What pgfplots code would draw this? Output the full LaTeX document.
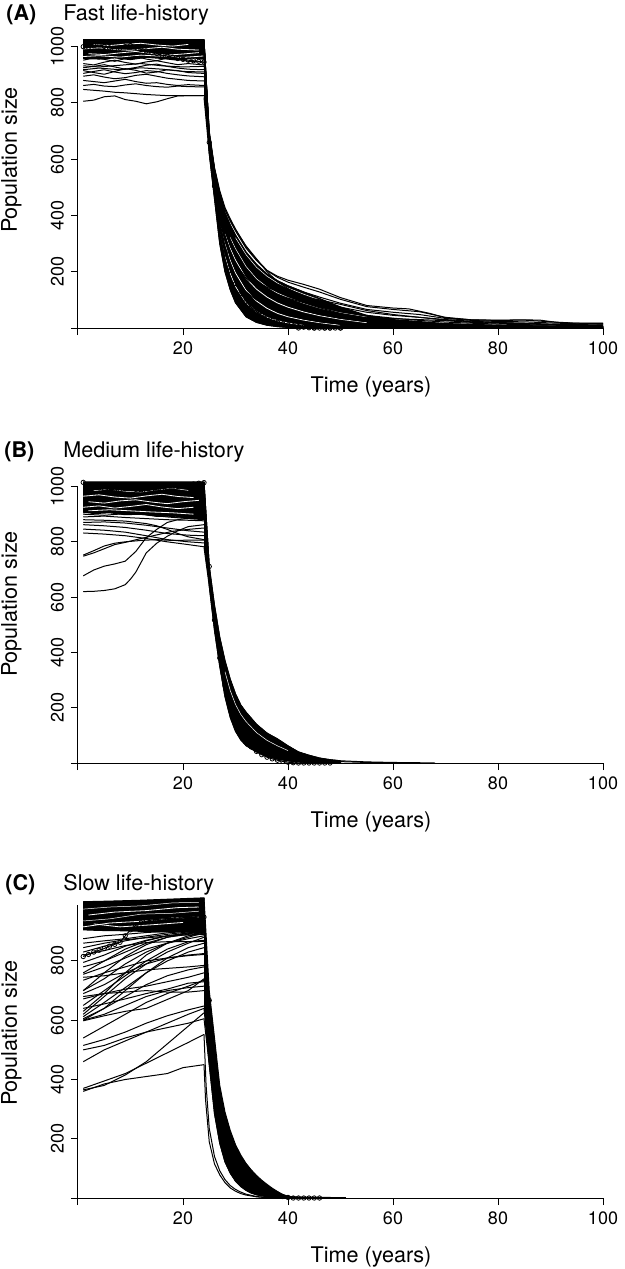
\documentclass[border=0pt]{standalone}
\usepackage{pgfplots}
\pgfplotsset{compat=1.18}
\usepackage{fontspec}
\setmainfont{TeX Gyre Heros}
\pgfplotsset{
  rpanel/.style={
    anchor=origin, x=2.625pt,
    xmin=0, xmax=100, ymin=0,
    axis lines=left,
    axis line style={-, line width=0.5pt},
    tick align=outside,
    major tick length=3.5pt,
    tick style={line width=0.5pt, black},
    xtick={0,20,40,60,80,100},
    xticklabels={,20,40,60,80,100},
    clip=false,
    yticklabel style={rotate=90, anchor=south},
    tick label style={font=\fontsize{9}{11}\selectfont},
    /pgf/number format/assume math mode=true,
  },
  ln/.style={black, line width=0.5pt, line join=round},
  wl/.style={white, line width=0.4pt, line join=round},
  tw/.style={white, line width=0.25pt, line join=round},
  fl/.style={black, fill=black, line width=0.5pt, line join=round},
  mk/.style={black, line width=0.5pt, mark=o, mark size=1.1pt, mark options={line width=0.4pt}},
  om/.style={black, only marks, mark=o, mark size=1.1pt, mark options={line width=0.4pt}},
}
\begin{document}
\begin{tikzpicture}
\useasboundingbox (0,0) rectangle (312.5pt,-634.5pt);
% ---------------- Panel A ----------------
\begin{axis}[rpanel, at={(39pt,-164pt)}, y=0.14065pt, ymax=1000,
  ytick={0,200,400,600,800,1000}, yticklabels={,200,400,600,800,1000}]
\addplot[fl] coordinates {(1,1025)(24,1025)(24,955)(22,960)(19,952)(16,958)(13,962)(10,954)(7,960)(4,956)(1,958)};
\addplot[wl] coordinates {(1,965)(4,968)(8,963)(12,970)(16,966)(20,962)(24,967)};
\addplot[wl] coordinates {(2,975)(5,972)(8,978)(11,983)(14,976)(17,970)(20,974)(23,979)};
\addplot[wl] coordinates {(1,992)(4,996)(7,990)(10,987)(13,993)(16,998)(19,991)(23,988)};
\addplot[wl] coordinates {(3,1008)(6,1004)(9,1009)(12,1012)(15,1006)(18,1002)(21,1008)};
\addplot[ln] coordinates {(1,806)(3,810)(5,822)(7,825)(9,812)(11,806)(13,797)(15,804)(17,815)(19,825)(21,826)(23,826)(24,826)};
\addplot[ln] coordinates {(1,848)(3,845)(5,842)(7,838)(9,836)(11,833)(13,830)(15,828)(17,826)(19,826)(21,826)(24,826)};
\addplot[ln] coordinates {(1,862)(3,866)(5,860)(7,858)(9,864)(11,868)(13,862)(15,858)(17,856)(19,860)(21,858)(24,857)};
\addplot[ln] coordinates {(1,880)(3,876)(5,872)(7,878)(9,884)(11,876)(13,870)(15,872)(17,866)(19,862)(21,865)(24,862)};
\addplot[ln] coordinates {(1,895)(3,900)(5,892)(7,886)(9,890)(11,898)(13,902)(15,895)(17,888)(19,884)(21,880)(24,878)};
\addplot[ln] coordinates {(1,905)(3,912)(5,918)(7,910)(9,904)(11,908)(13,915)(15,912)(17,905)(19,900)(21,896)(24,893)};
\addplot[ln] coordinates {(1,915)(3,908)(5,902)(7,912)(9,922)(11,916)(13,906)(15,910)(17,918)(19,915)(21,908)(24,905)};
\addplot[ln] coordinates {(1,925)(3,930)(5,936)(7,928)(9,920)(11,926)(13,934)(15,938)(17,930)(19,924)(21,920)(24,918)};
\addplot[ln] coordinates {(1,940)(3,935)(5,945)(7,952)(9,944)(11,938)(13,946)(15,950)(17,943)(19,936)(21,940)(24,935)};
\addplot[ln] coordinates {(1,952)(3,960)(5,955)(7,948)(9,958)(11,965)(13,956)(15,950)(17,960)(19,955)(21,948)(24,945)};
\addplot[ln] coordinates {(1,932)(4,928)(8,934)(12,940)(16,932)(20,928)(24,930)};
\addplot[ln] coordinates {(1,918)(4,924)(8,918)(12,925)(16,920)(20,912)(24,910)};
% decline band
\addplot[fl] coordinates {(24,1025)(25,688)(26,562)(27,472)(28,410)(29,366)(30,330)(32,270)(34,226)(36,192)(38,168)(40,150)(43,128)(46,105)(50,75)(55,45)(60,30)(70,16)(80,10)(90,7)(100,5)(100,0)(50,0)(45,0)(42,0)(40,2)(38,5)(36,10)(34,20)(32,40)(30,90)(29,136)(28,200)(27,300)(26,460)(25,620)(24,820)};
\addplot[wl] coordinates {(26.5,400)(27,352)(28,258)(29,194)(30,148)(32,90)(34,58)(36,38)(38,26)(40,18)(43,10)};
\addplot[wl] coordinates {(27,380)(28,302)(29,242)(30,196)(32,134)(34,96)(36,70)(38,52)(40,40)(43,28)(46,19)(50,10)};
\addplot[wl] coordinates {(28,335)(29,284)(30,242)(32,178)(34,138)(36,110)(38,89)(40,74)(43,57)(46,44)(50,31)(55,19)};
\addplot[tw] coordinates {(29,322)(30,282)(32,219)(34,175)(36,146)(38,124)(40,108)(43,88)(46,71)(50,54)(55,39)};
\addplot[tw] coordinates {(30,321)(32,261)(34,216)(36,184)(38,160)(40,142)(43,120)(46,100)};
\addplot[ln] coordinates {(24,1000)(25,620)(26,460)(27,300)(28,200)(29,136)(30,90)(32,40)(34,20)(36,10)(38,5)(40,2)(42,0)};
\addplot[ln] coordinates {(24,1010)(25,630)(26,475)(27,320)(28,222)(29,158)(30,112)(32,58)(34,32)(36,18)(38,10)(40,5)(43,2)(45,0)};
\addplot[ln] coordinates {(24,990)(25,640)(26,490)(27,340)(28,245)(29,180)(30,135)(32,78)(34,48)(36,30)(38,19)(40,12)(43,6)(46,2)(47,0)};
\addplot[ln] coordinates {(24,1015)(25,645)(26,500)(27,360)(28,268)(29,205)(30,160)(32,100)(34,66)(36,45)(38,31)(40,22)(43,13)(46,7)(48,0)};
\addplot[ln] coordinates {(24,970)(25,650)(26,510)(27,378)(28,290)(29,228)(30,182)(32,120)(34,84)(36,60)(38,44)(40,33)(43,22)(46,14)(50,0)};
\addplot[ln] coordinates {(24,1000)(25,655)(26,520)(27,395)(28,310)(29,250)(30,205)(32,142)(34,103)(36,77)(38,58)(40,45)(43,32)(46,22)(50,13)(55,7)(60,4)(70,2)(80,2)(90,1)(100,1)};
\addplot[ln] coordinates {(24,1020)(25,660)(26,530)(27,410)(28,330)(29,272)(30,228)(32,165)(34,125)(36,97)(38,77)(40,62)(43,46)(46,34)(50,23)(55,14)(60,10)(65,7)(70,5)(80,4)(90,3)(100,3)};
\addplot[ln] coordinates {(24,985)(25,665)(26,538)(27,425)(28,348)(29,292)(30,250)(32,186)(34,145)(36,117)(38,95)(40,80)(43,62)(46,48)(50,34)(55,22)(60,16)(65,12)(70,9)(75,7)(80,6)(90,5)(100,4)};
\addplot[ln] coordinates {(24,1005)(25,670)(26,545)(27,440)(28,366)(29,312)(30,272)(32,208)(34,165)(36,136)(38,114)(40,98)(43,79)(46,63)(50,47)(55,33)(60,25)(65,19)(70,14)(75,11)(80,9)(90,7)(100,6)};
\addplot[ln] coordinates {(24,1025)(25,675)(26,552)(27,452)(28,382)(29,332)(30,292)(32,230)(34,186)(36,156)(38,134)(40,117)(43,96)(46,79)(50,61)(55,45)(60,35)(65,27)(70,21)(75,17)(80,14)(85,12)(90,10)(95,9)(100,8)};
\addplot[ln] coordinates {(24,995)(25,680)(26,558)(27,463)(28,398)(29,350)(30,312)(32,252)(34,206)(36,175)(38,152)(40,134)(43,112)(46,95)(50,74)(55,56)(60,45)(65,38)(70,28)(75,22)(80,19)(85,17)(90,14)(95,12)(100,11)};
\addplot[ln] coordinates {(24,1012)(25,688)(26,562)(27,472)(28,410)(29,366)(30,330)(32,270)(34,226)(36,192)(38,168)(40,150)(43,128)(46,110)(50,88)(55,66)(60,56)(65,48)(70,34)(75,27)(80,23)(85,22)(90,18)(95,15)(100,14)};
\addplot[ln] coordinates {(24,1022)(25,695)(26,566)(27,482)(28,422)(29,380)(30,345)(32,284)(34,240)(36,204)(38,180)(40,163)(43,145)(46,128)(50,102)(55,76)(60,66)(65,58)(70,38)(75,29)(80,27)(85,28)(90,22)(95,17)(100,16)};
\addplot[ln] coordinates {(24,1000)(25,700)(26,570)(27,488)(28,428)(29,388)(30,352)(32,288)(34,244)(36,205)(38,184)(40,170)(43,155)(46,138)(50,108)(55,80)(60,71)(63,68)(67,52)(70,36)(75,29)(80,28)(85,29)(88,28)(92,18)(100,17)};
\addplot[ln] coordinates {(24,1018)(25,690)(26,565)(27,478)(28,420)(29,382)(30,350)(32,292)(34,246)(36,200)(38,165)(40,140)(43,110)(46,85)(50,60)(55,42)(60,33)(65,30)(70,26)(75,20)(80,17)(90,12)(100,10)};
\addplot[ln] coordinates {(24,990)(25,660)(26,528)(27,418)(28,345)(29,295)(30,258)(32,200)(34,165)(36,145)(38,130)(40,122)(43,110)(46,100)(50,84)(55,62)(60,48)(65,38)(70,30)(75,24)(80,20)(85,16)(90,12)(95,8)(100,6)};
\addplot[ln] coordinates {(24,1008)(25,650)(26,505)(27,385)(28,310)(29,262)(30,228)(32,178)(34,148)(36,130)(38,118)(40,106)(43,90)(46,72)(50,52)(55,36)(60,26)(65,19)(70,14)(80,8)(90,5)(100,3)};
\addplot[ln] coordinates {(24,1015)(25,635)(26,485)(27,350)(28,265)(29,212)(30,178)(32,128)(34,100)(36,84)(38,72)(40,62)(43,48)(46,36)(50,24)(55,14)(60,8)(65,4)(70,2)(80,1)(100,1)};
\addplot[mk] coordinates {(1,1000)(2,998)(3,1003)(4,1006)(5,1001)(6,996)(7,992)(8,995)(9,1000)(10,1004)(11,998)(12,990)(13,985)(14,980)(15,976)(16,970)(17,966)(18,962)(19,958)(20,955)(21,952)(22,950)(23,948)(24,945)(25,660)(26,505)(27,365)(28,270)(29,205)(30,158)(31,122)(32,95)(33,74)(34,58)(35,45)(36,35)(37,27)(38,20)(39,15)(40,11)(41,8)(42,5)(43,3)(44,1)(45,0)(46,0)(47,0)(48,0)(49,0)(50,0)};
\addplot[om] coordinates {(42,0)(45,0)(47,0)(48,0)(50,0)};
\end{axis}
% ---------------- Panel B ----------------
\begin{axis}[rpanel, at={(39pt,-381.5pt)}, y=0.13825pt, ymax=1000,
  ytick={0,200,400,600,800,1000}, yticklabels={,200,400,600,800,1000}]
\addplot[fl] coordinates {(1,1017)(24,1017)(24,885)(21,888)(18,894)(15,892)(12,900)(9,898)(6,905)(3,902)(1,908)};
\addplot[wl] coordinates {(1,925)(4,930)(7,922)(10,928)(13,935)(16,926)(19,920)(22,925)};
\addplot[wl] coordinates {(2,945)(5,940)(8,948)(11,952)(14,944)(17,938)(20,945)(23,950)};
\addplot[wl] coordinates {(1,965)(4,970)(7,962)(10,958)(13,966)(16,972)(19,964)(22,960)};
\addplot[tw] coordinates {(3,985)(6,990)(9,983)(12,980)(15,988)(18,994)(21,986)};
\addplot[wl] coordinates {(2,912)(6,916)(10,912)(14,908)(18,905)(22,900)};
\addplot[ln] coordinates {(1,620)(3,621)(5,624)(7,630)(9,645)(10,665)(11,690)(12,725)(13,760)(15,795)(17,820)(19,840)(21,855)(24,862)};
\addplot[ln] coordinates {(1,677)(3,698)(5,712)(7,720)(9,730)(11,765)(13,815)(15,845)(17,870)(19,880)(21,885)(24,885)};
\addplot[ln] coordinates {(1,752)(3,768)(5,785)(7,795)(9,800)(12,805)(15,808)(18,805)(21,806)(24,806)};
\addplot[ln] coordinates {(1,748)(3,760)(5,775)(7,790)(9,798)(12,812)(15,825)(18,838)(21,845)(24,850)};
\addplot[ln] coordinates {(1,832)(5,828)(9,822)(13,812)(17,800)(21,790)(24,782)};
\addplot[ln] coordinates {(1,846)(5,842)(9,835)(13,822)(17,808)(21,800)(24,796)};
\addplot[ln] coordinates {(1,862)(5,858)(9,852)(13,842)(17,830)(21,824)(24,822)};
\addplot[ln] coordinates {(1,880)(5,878)(9,875)(13,866)(15,858)(17,845)(19,830)(21,818)(24,808)};
\addplot[ln] coordinates {(1,870)(5,872)(9,868)(13,860)(17,850)(21,840)(24,835)};
\addplot[ln] coordinates {(1,890)(5,893)(9,888)(13,884)(17,880)(21,878)(24,876)};
\addplot[ln] coordinates {(1,900)(5,896)(9,902)(13,898)(17,890)(21,884)(24,880)};
\addplot[ln] coordinates {(1,905)(4,910)(8,906)(12,900)(16,895)(20,888)(24,885)};
% decline band
\addplot[fl] coordinates {(24,1017)(25,711)(26,570)(27,455)(28,370)(29,303)(30,250)(31,210)(32,184)(34,140)(36,108)(38,87)(40,62)(42,40)(44,28)(46,18)(48,12)(50,8)(50,0)(45,0)(44,1)(42,4)(40,8)(38,14)(36,24)(34,40)(32,63)(31,84)(30,115)(29,165)(28,240)(27,350)(26,480)(25,640)(24,780)};
\addplot[tw] coordinates {(28,330)(29,262)(30,212)(31,176)(32,150)(34,110)(36,82)(38,62)(40,45)};
\addplot[ln] coordinates {(24,1000)(25,640)(26,480)(27,350)(28,240)(29,165)(30,115)(31,84)(32,63)(34,40)(36,24)(38,14)(40,8)(42,4)(44,1)(45,0)};
\addplot[ln] coordinates {(24,1017)(25,711)(26,570)(27,455)(28,370)(29,303)(30,250)(31,210)(32,184)(34,140)(36,108)(38,87)(40,62)(42,40)(44,28)(46,18)(48,12)(50,8)(55,4)(60,2)(65,1)(68,0)};
\addplot[ln] coordinates {(40,30)(44,16)(46,10)(50,5)(55,2)(60,1)(63,0)};
\addplot[mk] coordinates {(1,1015)(2,1005)(3,998)(4,995)(5,992)(6,990)(7,988)(8,990)(9,992)(10,994)(11,990)(12,988)(13,985)(14,988)(15,990)(16,993)(17,995)(18,998)(19,1000)(20,1003)(21,1006)(22,1009)(23,1012)(24,1014)(25,711)(26,517)(27,380)(28,280)(29,205)(30,150)(31,110)(32,80)(33,58)(34,42)(35,30)(36,21)(37,15)(38,10)(39,6)(40,3)(41,1)(42,0)(43,0)(44,0)(45,0)(46,0)(47,0)(48,0)};
\end{axis}
% ---------------- Panel C ----------------
\begin{axis}[rpanel, at={(39pt,-599pt)}, y=0.14815pt, ymax=990,
  ytick={0,200,400,600,800}, yticklabels={,200,400,600,800}]
\addplot[fl] coordinates {(1,1000)(6,1002)(12,1005)(18,1009)(24,1013)(24,895)(20,900)(16,898)(12,900)(8,902)(4,903)(1,905)};
\addplot[wl] coordinates {(1,915)(6,928)(12,934)(18,945)(23,948)};
\addplot[tw] coordinates {(1,935)(6,942)(12,958)(18,961)(23,968)};
\addplot[wl] coordinates {(2,955)(7,965)(13,970)(19,980)(23,982)};
\addplot[tw] coordinates {(1,975)(6,982)(12,986)(18,996)(23,998)};
\addplot[wl] coordinates {(3,925)(8,915)(14,922)(20,930)};
\addplot[ln] coordinates {(1,360)(5,385)(9,400)(13,410)(17,420)(20,440)(24,450)};
\addplot[ln] coordinates {(1,370)(5,395)(9,420)(13,455)(17,490)(21,525)(24,552)};
\addplot[ln] coordinates {(1,365)(5,380)(9,415)(13,460)(17,520)(21,580)(24,625)};
\addplot[ln] coordinates {(1,460)(5,500)(9,530)(13,560)(17,590)(21,620)(24,640)};
\addplot[ln] coordinates {(1,500)(5,515)(9,540)(13,560)(17,575)(21,590)(24,605)};
\addplot[ln] coordinates {(1,515)(5,535)(9,560)(13,590)(17,615)(21,635)(24,648)};
\addplot[ln] coordinates {(1,540)(5,580)(9,620)(13,660)(17,690)(21,715)(24,735)};
\addplot[ln] coordinates {(1,600)(5,620)(9,650)(13,680)(17,700)(21,710)(24,715)};
\addplot[ln] coordinates {(1,605)(5,640)(9,680)(13,720)(17,750)(21,770)(24,780)};
\addplot[ln] coordinates {(1,612)(5,660)(9,710)(13,760)(17,800)(21,830)(24,845)};
\addplot[ln] coordinates {(1,620)(5,680)(9,740)(13,790)(17,830)(21,860)(24,880)};
\addplot[ln] coordinates {(1,598)(5,615)(9,630)(13,640)(17,670)(21,700)(24,740)};
\addplot[ln] coordinates {(1,680)(5,690)(9,695)(13,700)(17,695)(21,695)(24,700)};
\addplot[ln] coordinates {(1,690)(5,720)(9,760)(13,790)(17,810)(21,820)(24,825)};
\addplot[ln] coordinates {(1,700)(5,740)(9,790)(13,830)(17,860)(21,880)(24,895)};
\addplot[ln] coordinates {(1,672)(5,690)(9,705)(13,715)(17,730)(21,745)(24,760)};
\addplot[ln] coordinates {(1,745)(5,750)(9,760)(13,770)(17,775)(21,780)(24,785)};
\addplot[ln] coordinates {(1,755)(5,780)(9,810)(13,840)(17,860)(21,875)(24,885)};
\addplot[ln] coordinates {(1,735)(5,760)(9,780)(13,800)(17,810)(21,818)(24,822)};
\addplot[ln] coordinates {(1,780)(5,800)(9,830)(13,860)(17,880)(21,890)(24,895)};
\addplot[ln] coordinates {(1,795)(5,820)(9,850)(13,870)(17,885)(21,895)(24,900)};
\addplot[ln] coordinates {(1,830)(5,850)(9,868)(13,880)(17,890)(21,898)(24,902)};
\addplot[ln] coordinates {(1,845)(5,860)(9,872)(13,878)(17,884)(21,888)(24,890)};
\addplot[ln] coordinates {(1,860)(5,868)(9,875)(13,885)(17,895)(21,900)(24,905)};
\addplot[ln] coordinates {(1,875)(5,885)(9,890)(13,896)(17,900)(21,905)(24,910)};
\addplot[ln] coordinates {(1,820)(5,835)(9,852)(13,862)(17,865)(21,865)(24,866)};
\addplot[ln] coordinates {(1,650)(5,700)(9,750)(13,800)(17,840)(21,865)(24,870)};
\addplot[ln] coordinates {(1,640)(5,655)(9,672)(13,690)(17,705)(21,725)(24,730)};
\addplot[ln] coordinates {(1,630)(5,690)(9,760)(13,820)(17,860)(21,885)(24,892)};
\addplot[ln] coordinates {(1,700)(5,760)(9,815)(13,855)(17,880)(21,895)(24,900)};
\addplot[ln] coordinates {(1,760)(5,800)(9,840)(13,868)(17,885)(21,892)(24,898)};
\addplot[ln] coordinates {(1,600)(5,640)(9,700)(13,760)(17,810)(21,845)(24,860)};
% decline
\addplot[fl] coordinates {(24,1013)(25,700)(26,540)(27,380)(28,290)(29,228)(30,180)(31,145)(32,117)(33,95)(34,76)(35,60)(36,46)(37,33)(38,22)(39,12)(40,6)(42,2)(45,1)(45,0)(40,0)(38,1)(36,4)(34,11)(33,17)(32,26)(31,39)(30,57)(29,84)(28,122)(27,185)(26,285)(25,450)(24,640)};
\addplot[ln] coordinates {(24,605)(25,450)(26,285)(27,185)(28,122)(29,84)(30,57)(31,39)(32,26)(33,17)(34,11)(36,4)(38,1)(40,0)};
\addplot[ln] coordinates {(24,450)(24.3,330)(25,190)(26,115)(27,78)(28,52)(29,34)(30,23)(31,15)(32,10)(34,4)(36,1)(37,0)};
\addplot[ln] coordinates {(24,552)(24.4,380)(25,235)(26,140)(27,92)(28,62)(29,42)(30,29)(31,20)(32,13)(34,5)(36,2)(38,0)};
\addplot[black, line width=0.8pt] coordinates {(40,3)(45,1.5)(51,0)};
\addplot[mk] coordinates {(1,815)(2,822)(3,830)(4,836)(5,842)(6,850)(7,856)(8,863)(9,885)(10,905)(11,920)(12,928)(13,934)(14,938)(15,940)(16,942)(17,943)(18,944)(19,945)(20,946)(21,947)(22,947)(23,948)(24,948)(25,667)(26,480)(27,330)(28,235)(29,170)(30,125)(31,92)(32,68)(33,50)(34,37)(35,27)(36,19)(37,13)(38,8)(39,5)(40,2)(41,0)(42,0)(43,0)(44,0)(45,0)(46,0)};
\end{axis}
% ---------------- Labels ----------------
\node[anchor=base west, font=\fontsize{10.8}{13}\selectfont\bfseries, inner sep=0pt] at (3pt,-10pt) {(A)};
\node[anchor=base west, font=\fontsize{10.8}{13}\selectfont, inner sep=0pt] at (31.5pt,-10pt) {Fast life-history};
\node[anchor=base west, font=\fontsize{10.8}{13}\selectfont\bfseries, inner sep=0pt] at (2pt,-228.5pt) {(B)};
\node[anchor=base west, font=\fontsize{10.8}{13}\selectfont, inner sep=0pt] at (31.5pt,-228.5pt) {Medium life-history};
\node[anchor=base west, font=\fontsize{10.8}{13}\selectfont\bfseries, inner sep=0pt] at (2.5pt,-445.3pt) {(C)};
\node[anchor=base west, font=\fontsize{10.8}{13}\selectfont, inner sep=0pt] at (31.5pt,-445.3pt) {Slow life-history};
\node[rotate=90, anchor=base, font=\fontsize{10.8}{13}\selectfont, inner sep=0pt] at (8.5pt,-80pt) {Population size};
\node[rotate=90, anchor=base, font=\fontsize{10.8}{13}\selectfont, inner sep=0pt] at (8.5pt,-302pt) {Population size};
\node[rotate=90, anchor=base, font=\fontsize{10.8}{13}\selectfont, inner sep=0pt] at (8.5pt,-516.5pt) {Population size};
\node[anchor=base, font=\fontsize{10.8}{13}\selectfont, inner sep=0pt] at (185.5pt,-196pt) {Time (years)};
\node[anchor=base, font=\fontsize{10.8}{13}\selectfont, inner sep=0pt] at (185.5pt,-413.5pt) {Time (years)};
\node[anchor=base, font=\fontsize{10.8}{13}\selectfont, inner sep=0pt] at (185.5pt,-631pt) {Time (years)};
\end{tikzpicture}
\end{document}
